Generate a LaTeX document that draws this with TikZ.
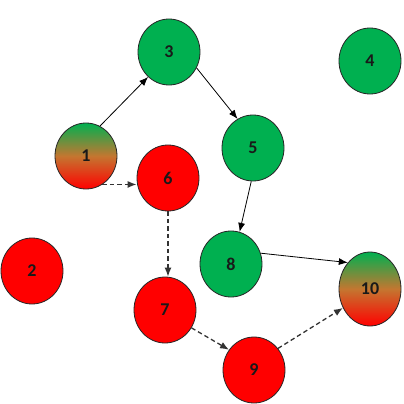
\documentclass[tikz,border=0pt]{standalone}
\usepackage{fontspec}
\setmainfont{Carlito}
\usetikzlibrary{shapes.geometric,arrows.meta}
\definecolor{gnode}{RGB}{0,176,80}
\definecolor{rnode}{RGB}{255,0,0}
\definecolor{mnode}{RGB}{196,118,48}
\begin{document}
\begin{tikzpicture}[x=1pt,y=-1pt,
  vert/.style={ellipse,draw=black!85,line width=0.8pt,minimum width=62pt,minimum height=66pt,inner sep=0pt,font=\fontsize{18}{18}\selectfont\bfseries,text=black!90},
  gv/.style={vert,fill=gnode},
  rv/.style={vert,fill=rnode},
  mv/.style={vert,top color=gnode,bottom color=rnode,middle color=mnode},
  solidarrow/.style={-{Latex[length=9pt,width=7pt]},line width=0.8pt,black},
  dasharrow/.style={-{Latex[length=9pt,width=7pt]},line width=1.3pt,black!80,dash pattern=on 4.5pt off 3pt}]
\useasboundingbox (0,0) rectangle (404,404);
\node[mv] (n1) at (86,156) {1};
\node[rv] (n2) at (32,271) {2};
\node[gv] (n3) at (169,52) {3};
\node[gv] (n4) at (370,61) {4};
\node[gv] (n5) at (253,148) {5};
\node[rv] (n6) at (168,178) {6};
\node[rv] (n7) at (165,310) {7};
\node[gv] (n8) at (231,264) {8};
\node[rv] (n9) at (254,370) {9};
\node[mv,minimum height=74pt] (n10) at (370,289) {10};
\draw[solidarrow] (n1.65) -- (n3.230);
\draw[solidarrow] (n3.-30) -- (n5.118);
\draw[solidarrow] (n5.-93) -- (n8.75);
\draw[solidarrow] (n8.20) -- (n10.130);
\draw[dasharrow] (n1.300) -- (n1.300 -| n6.west);
\draw[dasharrow] (n6.south) -- (n6.south |- n7.north);
\draw[dasharrow] (n7.-34) -- (n9.141);
\draw[dasharrow] (n9.42) -- (n10.215);
\end{tikzpicture}
\end{document}
